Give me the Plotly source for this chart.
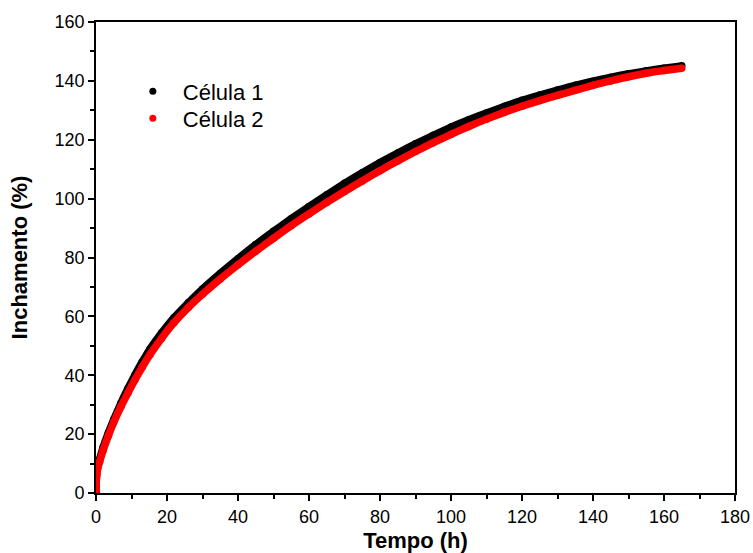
import plotly.graph_objects as go

# Célula 1 (black)
tempo_c1 = [0, 0.05, 0.15, 0.4, 1, 2, 3.5, 5, 7, 9, 11, 13, 15.2, 18.5, 22, 26, 30, 35, 40,
            45, 50, 55, 60, 65, 70, 75, 80, 85, 90, 95, 100, 105, 110, 115, 120, 125, 130,
            135, 140, 145, 150, 155, 160, 165]
inch_c1 = [0, 3.5, 6.5, 9, 11.5, 15.5, 20.5, 25, 30.5, 35.5, 40.2, 44.5, 48.9, 54.4, 59.6, 64.6,
           69.3, 74.6, 79.6, 84.4, 88.9, 93.2, 97.3, 101.3, 105.2, 108.8, 112.3, 115.5, 118.6,
           121.5, 124.3, 126.8, 129.1, 131.3, 133.4, 135.2, 136.9, 138.5, 139.9, 141.2, 142.4,
           143.4, 144.3, 145.1]

# Célula 2 (red)
tempo_c2 = [0, 0.05, 0.2, 0.5, 1, 2, 3.5, 5, 7, 9, 11, 13, 15.2, 18.5, 22, 26, 30, 35, 40,
            45, 50, 55, 60, 65, 70, 75, 80, 85, 90, 95, 100, 105, 110, 115, 120, 125, 130,
            135, 140, 145, 150, 155, 160, 165]
inch_c2 = [0, 3, 6, 8.5, 10.5, 14.5, 19.5, 24, 29.3, 34, 38.5, 42.7, 47, 52.6, 57.9, 63, 67.5,
           72.7, 77.5, 82.1, 86.5, 90.8, 94.8, 98.7, 102.4, 106, 109.5, 112.8, 116, 119, 121.8,
           124.5, 127, 129.3, 131.4, 133.3, 135.1, 136.8, 138.5, 140, 141.4, 142.6, 143.5, 144.3]

series_names = ["Célula 1", "Célula 2"]
series_colors = ["#000000", "#ff0000"]

x_ticks = [0, 20, 40, 60, 80, 100, 120, 140, 160, 180]
y_ticks = [0, 20, 40, 60, 80, 100, 120, 140, 160]

FONT = "Liberation Sans, Arial, sans-serif"

fig = go.Figure()
for xs, ys, name, col in [(tempo_c1, inch_c1, series_names[0], series_colors[0]),
                          (tempo_c2, inch_c2, series_names[1], series_colors[1])]:
    fig.add_trace(go.Scatter(x=xs, y=ys, mode="lines+markers", name=name,
                             line=dict(color=col, width=7.5, shape="spline", smoothing=0.6),
                             marker=dict(color=col, size=7.5),
                             showlegend=False, hoverinfo="skip"))
for i, (name, col) in enumerate(zip(series_names, series_colors)):
    fig.add_trace(go.Scatter(x=[None], y=[None], mode="markers", name=name,
                             marker=dict(color=col, size=7),
                             legend="legend" if i == 0 else "legend2"))

axis_common = dict(
    showgrid=False, zeroline=False, showline=True, linecolor="black", linewidth=1.8,
    mirror=True, ticks="outside", ticklen=6, tickwidth=1.5, tickcolor="black",
    tickfont=dict(family=FONT, size=18, color="black"),
    minor=dict(ticks="outside", ticklen=4, tickwidth=1.5, tickcolor="black"),
)

fig.update_xaxes(range=[0, 180], tickvals=x_ticks, minor_dtick=10,
                 title=dict(text="<b>Tempo (h)</b>", font=dict(family=FONT, size=22, color="black"),
                            standoff=9),
                 **axis_common)
fig.update_yaxes(range=[0, 160], tickvals=y_ticks, minor_dtick=10,
                 title=dict(text="<b>Inchamento (%)</b>", font=dict(family=FONT, size=22, color="black"),
                            standoff=21),
                 **axis_common)

legend_common = dict(xanchor="left", yanchor="middle",
                     font=dict(family=FONT, size=22, color="black"),
                     bgcolor="rgba(0,0,0,0)", itemwidth=50)
fig.update_layout(
    width=753, height=553,
    margin=dict(l=96, r=18, t=22, b=60, autoexpand=False),
    plot_bgcolor="white", paper_bgcolor="white",
    legend=dict(x=0.042, y=(493 - 91.5) / 471, **legend_common),
    legend2=dict(x=0.042, y=(493 - 118.5) / 471, **legend_common),
    showlegend=True,
)

fig.write_html("out.html")
